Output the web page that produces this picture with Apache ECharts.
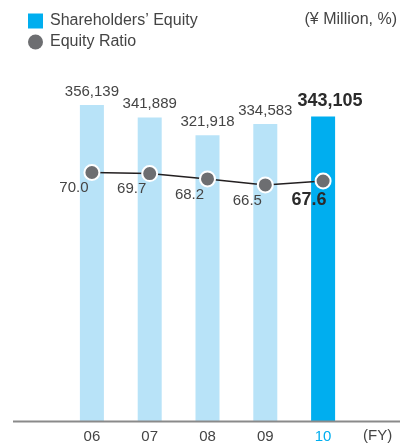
<!DOCTYPE html>
<html>
<head>
<meta charset="utf-8">
<script src="https://cdn.jsdelivr.net/npm/echarts@6/dist/echarts.min.js"></script>
<style>
  html, body { margin: 0; padding: 0; background: #fff; }
  #chart { width: 400px; height: 444px; }
</style>
</head>
<body>
<div id="chart"></div>
<script>
// Fiscal years shown on the category axis
const years = ['06', '07', '08', '09', '10'];
// Shareholders' equity, ¥ million
const equity = [356139, 341889, 321918, 334583, 343105];
// Equity ratio, %
const equityRatio = [70.0, 69.7, 68.2, 66.5, 67.6];

const FONT = '"Liberation Sans", Arial, Helvetica, sans-serif';
const TEXT = '#444444';
const STRONG = '#2b2b2b';
const LIGHT_BLUE = '#b8e3f8';
const BLUE = '#00aeef';
const GRAY = '#6d6e71';
const last = years.length - 1;

const chart = echarts.init(document.getElementById('chart'), null, { renderer: 'canvas' });

chart.setOption({
  animation: false,
  textStyle: { fontFamily: FONT },
  legend: {
    orient: 'vertical',
    left: 28,
    top: 13,
    padding: 0,
    itemWidth: 15,
    itemHeight: 15,
    itemGap: 5,
    selectedMode: false,
    textStyle: { fontFamily: FONT, fontSize: 16, color: TEXT, padding: [0, 0, 0, 2] },
    data: [
      { name: 'Shareholders\u2019 Equity', icon: 'rect', itemStyle: { color: BLUE } },
      { name: 'Equity Ratio', icon: 'circle', itemStyle: { color: GRAY, borderWidth: 0 } }
    ]
  },
  graphic: [
    {
      type: 'text', right: 3, top: 12,
      style: { text: '(\u00a5 Million, %)', font: '16px ' + FONT, fill: TEXT }
    },
    {
      type: 'text', left: 363, top: 428,
      style: { text: '(FY)', font: '15px ' + FONT, fill: TEXT }
    },
    {
      type: 'line', z: 10,
      shape: { x1: 13, y1: 421.5, x2: 400, y2: 421.5 },
      style: { stroke: '#8a8a8a', lineWidth: 2 }
    }
  ],
  grid: { left: 63, right: 48, top: 66, bottom: 23 },
  xAxis: {
    type: 'category',
    data: years,
    axisLine: { show: false },
    axisTick: { show: false },
    axisLabel: {
      margin: 8,
      fontFamily: FONT,
      fontSize: 15,
      color: TEXT,
      formatter: (v, i) => (i === last ? '{hl|' + v + '}' : v),
      rich: { hl: { color: BLUE, fontSize: 15, fontFamily: FONT } }
    }
  },
  yAxis: [
    { type: 'value', min: 0, max: 400000, show: false, splitLine: { show: false } },
    { type: 'value', min: 0, max: 100, show: false, splitLine: { show: false } }
  ],
  series: [
    {
      name: 'Shareholders\u2019 Equity',
      type: 'bar',
      barWidth: 24,
      yAxisIndex: 0,
      itemStyle: { color: LIGHT_BLUE },
      data: equity.map((v, i) => ({
        value: v,
        itemStyle: { color: i === last ? BLUE : LIGHT_BLUE },
        label: i === last
          ? { fontSize: 18, fontWeight: 'bold', color: STRONG, distance: 6, offset: [7, 0] }
          : {}
      })),
      label: {
        show: true,
        position: 'top',
        distance: 6,
        fontFamily: FONT,
        fontSize: 15,
        color: TEXT,
        formatter: p => p.value.toLocaleString('en-US')
      }
    },
    {
      name: 'Equity Ratio',
      type: 'line',
      yAxisIndex: 1,
      symbol: 'circle',
      symbolSize: 15,
      lineStyle: { color: '#231f20', width: 1.5 },
      itemStyle: { color: GRAY, borderColor: '#fff', borderWidth: 2 },
      z: 5,
      data: equityRatio.map((v, i) => ({
        value: v,
        label: i === last
          ? { fontSize: 18, fontWeight: 'bold', color: STRONG, offset: [-14, 19] }
          : {}
      })),
      label: {
        show: true,
        position: 'inside',
        offset: [-18, 15.5],
        fontFamily: FONT,
        fontSize: 15,
        color: TEXT,
        formatter: p => p.value.toFixed(1)
      }
    }
  ]
});
</script>
</body>
</html>
